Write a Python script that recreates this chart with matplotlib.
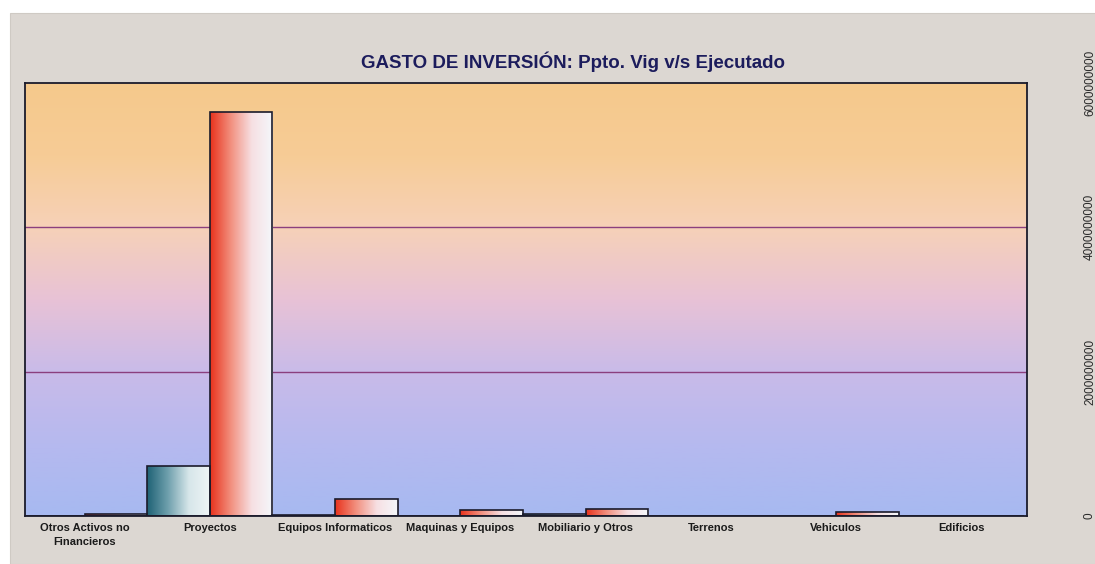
import numpy as np
import matplotlib.pyplot as plt
from matplotlib.colors import LinearSegmentedColormap
from matplotlib.patches import Rectangle

categories = [
    "Otros Activos no\nFinancieros",
    "Proyectos",
    "Equipos Informaticos",
    "Maquinas y Equipos",
    "Mobiliario y Otros",
    "Terrenos",
    "Vehiculos",
    "Edificios",
]
ppto_vig = [0.0, 0.69e9, 0.02e9, 0.0, 0.03e9, 0.0, 0.0, 0.0]
ejecutado = [0.03e9, 5.6e9, 0.23e9, 0.08e9, 0.1e9, 0.0, 0.05e9, 0.0]
yticks = [0, 2000000000, 4000000000, 6000000000]

fig = plt.figure(figsize=(10.95, 5.64), dpi=100, facecolor="white")
# beige panel behind the chart
fig.patches.append(Rectangle((10 / 1095, 0.0), 1.0, 1 - 13 / 564, transform=fig.transFigure,
                             facecolor="#dcd7d2", edgecolor="#cfcac4", lw=0.8, zorder=-5))

ax = fig.add_axes([25 / 1095, 1 - 516 / 564, (1027 - 25) / 1095, (516 - 83) / 564])
ax.set_facecolor("none")

# background gradient of the plot area (top -> bottom)
bg_cmap = LinearSegmentedColormap.from_list(
    "bg", ["#a7b9f1", "#b6b9ef", "#c9bbe9", "#e8c2d6", "#f6d1b8", "#f7cc96", "#f5c98c"]
)
grad = np.linspace(0, 1, 256).reshape(-1, 1)
ax.imshow(grad, cmap=bg_cmap, origin="lower", aspect="auto", extent=[0, 1, 0, 1],
          transform=ax.transAxes, zorder=0)

x = np.arange(len(categories))
w = 0.5
teal_cmap = LinearSegmentedColormap.from_list("teal", ["#1f6275", "#6fa0ad", "#d7e6ea", "#eef4f5"])
red_cmap = LinearSegmentedColormap.from_list("red", ["#e8321c", "#f2907f", "#f7e0e3", "#f4f7fb"])

bars1 = ax.bar(x - w / 2, ppto_vig, width=w, facecolor="none", edgecolor="#1b1b2b", lw=1.2, zorder=3)
bars2 = ax.bar(x + w / 2, ejecutado, width=w, facecolor="none", edgecolor="#1b1b2b", lw=1.2, zorder=3)

hgrad = np.linspace(0, 1, 256).reshape(1, -1)
for bars, cmap in [(bars1, teal_cmap), (bars2, red_cmap)]:
    for b in bars:
        h = b.get_height()
        if h <= 0:
            continue
        x0 = b.get_x()
        im = ax.imshow(hgrad, cmap=cmap, aspect="auto", extent=[x0, x0 + b.get_width(), 0, h], zorder=2)
        im.set_clip_path(b)

for yv in yticks[1:3]:
    ax.axhline(yv, color="#8b3f7e", lw=1.0, zorder=1)

ax.set_xlim(-0.476, len(categories) - 0.476)
ax.set_ylim(0, 5.97e9)

ax.set_xticks(x)
ax.set_xticklabels(categories, fontsize=8, fontweight="bold", color="#1a1a1a", family="Liberation Sans",
                   linespacing=1.55)
ax.tick_params(axis="x", length=0, pad=5)

ax.yaxis.tick_right()
ax.set_yticks(yticks)
ax.set_yticklabels([str(v) for v in yticks], rotation=90, va="center", fontsize=8.5,
                   color="#2a2a2a", family="Liberation Sans")
ax.tick_params(axis="y", length=0, pad=41)

for s in ax.spines.values():
    s.set_color("#1b1b2b")
    s.set_linewidth(1.3)

fig.text(573 / 1095, 1 - 62 / 564, "GASTO DE INVERSIÓN: Ppto. Vig v/s Ejecutado", ha="center", va="center",
         fontsize=13.5, fontweight="bold", color="#1c1c5c", family="Liberation Sans")

fig.savefig("out.png", dpi=100)
